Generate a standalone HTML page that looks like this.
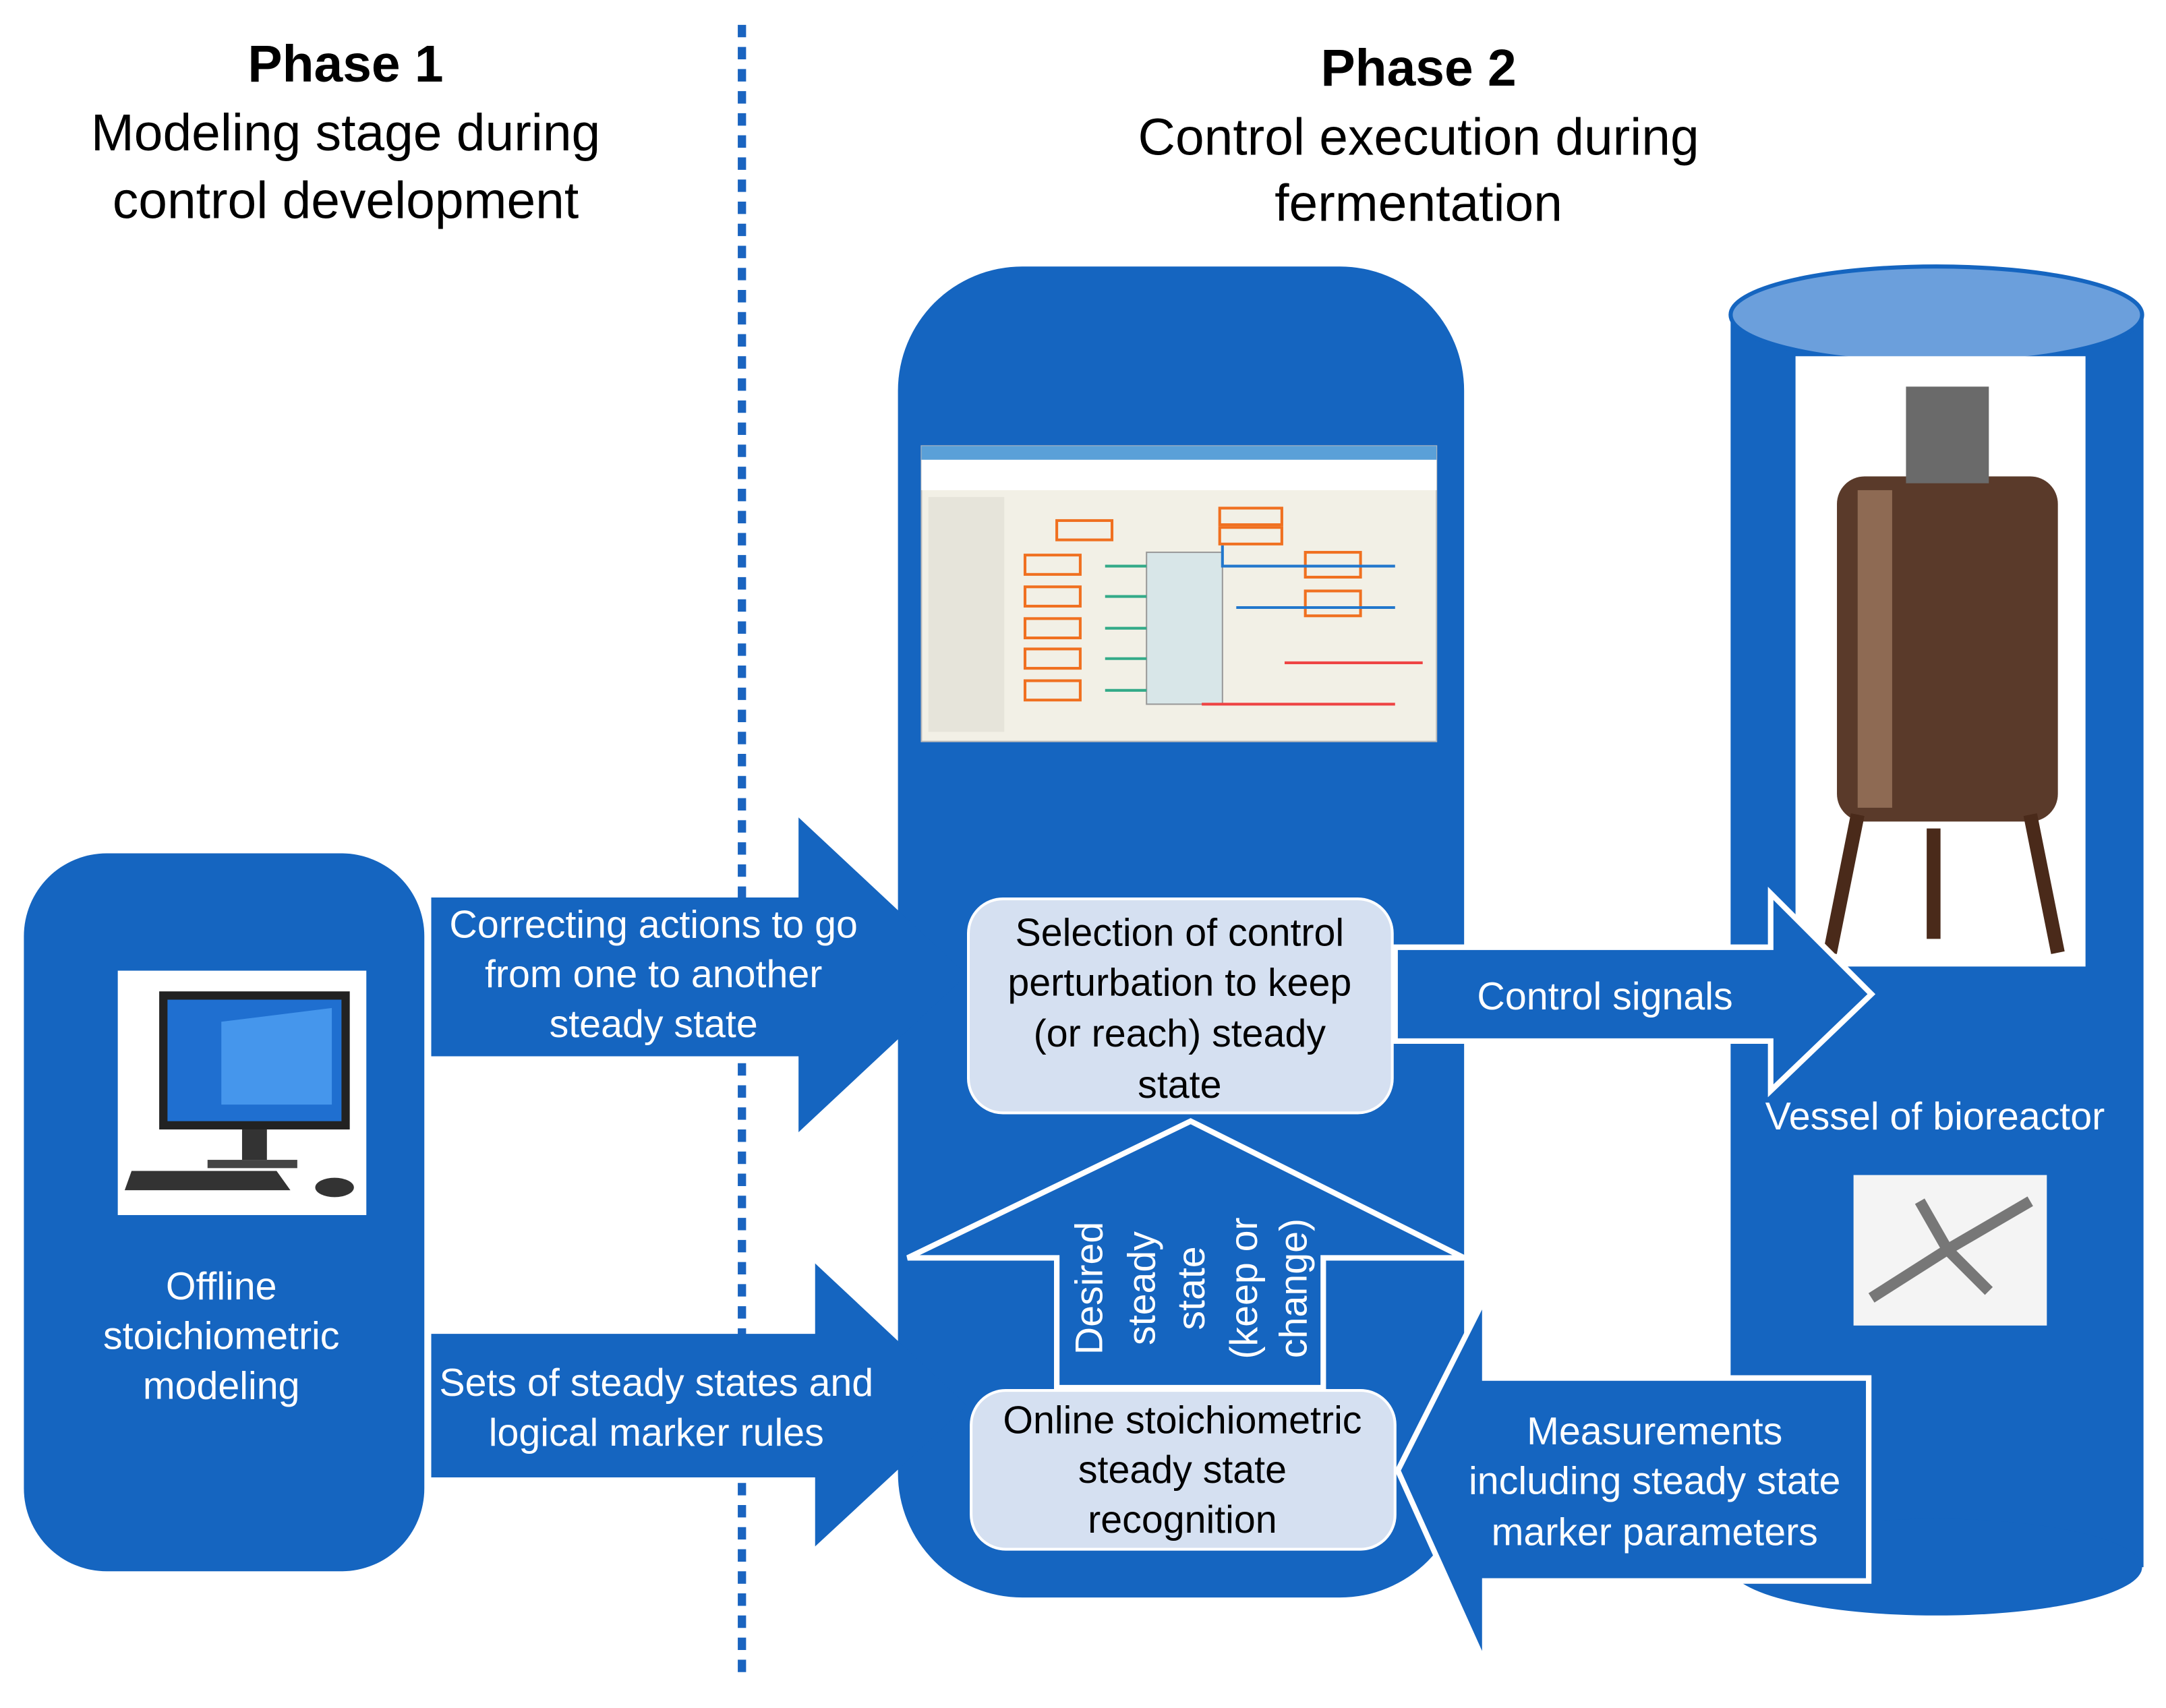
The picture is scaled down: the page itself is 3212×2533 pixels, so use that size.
<!DOCTYPE html>
<html><head><meta charset="utf-8"><style>html,body{margin:0;padding:0;background:#fff}svg{display:block}</style></head><body>
<svg width="3212" height="2533" viewBox="0 0 1568 1237" xmlns="http://www.w3.org/2000/svg" font-family="Liberation Sans, sans-serif">
<rect width="1568" height="1237" fill="#fff"/>
<g text-anchor="middle" fill="#000" font-size="37.5">
<text x="250" y="59" font-weight="bold">Phase 1</text>
<text x="250" y="109">Modeling stage during</text>
<text x="250" y="158">control development</text>
<text x="1027" y="62" font-weight="bold">Phase 2</text>
<text x="1027" y="112">Control execution during</text>
<text x="1027" y="160">fermentation</text>
</g>
<line x1="537" y1="18" x2="537" y2="1214" stroke="#1a64c0" stroke-width="6" stroke-dasharray="9,7"/>
<rect x="17" y="618" width="290" height="520" rx="60" fill="#1565c0"/>
<rect x="85" y="703" width="180" height="177" fill="#fff"/>
<rect x="115" y="718" width="138" height="100" fill="#222"/>
<rect x="121" y="724" width="126" height="88" fill="#1f6fd0"/>
<polygon points="160,740 240,730 240,800 160,800" fill="#5fb0ff" opacity=".6"/>
<rect x="175" y="818" width="18" height="22" fill="#333"/>
<rect x="150" y="840" width="65" height="6" fill="#444"/>
<polygon points="95,848 200,848 210,862 90,862" fill="#333"/>
<ellipse cx="242" cy="860" rx="14" ry="7" fill="#333"/>
<g fill="#fff" font-size="28" text-anchor="middle">
<text x="160" y="941">Offline</text><text x="160" y="977">stoichiometric</text><text x="160" y="1013">modeling</text>
</g>
<rect x="650" y="193" width="410" height="964" rx="90" fill="#1565c0"/>
<rect x="667" y="323" width="373" height="214" fill="#f2f0e6" stroke="#bbb"/>
<rect x="667" y="323" width="373" height="10" fill="#5aa0d8"/>
<rect x="667" y="333" width="373" height="22" fill="#fff"/>
<rect x="672" y="360" width="55" height="170" fill="#e6e4da"/>
<rect x="830" y="400" width="55" height="110" fill="#d8e6e8" stroke="#999"/>
<g fill="none" stroke="#f07020" stroke-width="2">
<rect x="742" y="402" width="40" height="14"/><rect x="742" y="425" width="40" height="14"/><rect x="742" y="448" width="40" height="14"/><rect x="742" y="470" width="40" height="14"/><rect x="742" y="493" width="40" height="14"/>
<rect x="883" y="368" width="45" height="12"/><rect x="883" y="382" width="45" height="12"/><rect x="945" y="400" width="40" height="18"/><rect x="945" y="428" width="40" height="18"/><rect x="765" y="377" width="40" height="14"/>
</g>
<path d="M800 410 H830 M800 432 H830 M800 455 H830 M800 477 H830 M800 500 H830" stroke="#3a8" stroke-width="2"/>
<path d="M885 395 V410 H1010 M895 440 H1010" stroke="#27c" stroke-width="2" fill="none"/>
<path d="M870 510 H1010 M930 480 H1030" stroke="#e44" stroke-width="2" fill="none"/>
<polygon points="312,650 578,650 578,592 700,706 578,820 578,765 312,765" fill="#1565c0"/>
<polygon points="312,966 590,966 590,915 700,1018 590,1120 590,1070 312,1070" fill="#1565c0"/>
<g fill="#fff" font-size="28" text-anchor="middle">
<text x="473" y="679">Correcting actions to go</text>
<text x="473" y="715">from one to another</text>
<text x="473" y="751">steady state</text>
<text x="475" y="1011">Sets of steady states and</text>
<text x="475" y="1047">logical marker rules</text>
</g>
<polygon points="862,812 1060,911 958,911 958,1005 765,1005 765,911 657,911" fill="#1565c0" stroke="#fff" stroke-width="4"/>
<g fill="#fff" font-size="28" text-anchor="middle">
<text transform="translate(798,933) rotate(-90)">Desired</text>
<text transform="translate(836,933) rotate(-90)">steady</text>
<text transform="translate(872,933) rotate(-90)">state</text>
<text transform="translate(910,933) rotate(-90)">(keep or</text>
<text transform="translate(946,933) rotate(-90)">change)</text>
</g>
<rect x="701" y="651" width="307" height="155" rx="25" fill="#d5e0f1" stroke="#fff" stroke-width="2"/>
<rect x="703" y="1007" width="307" height="115" rx="25" fill="#d5e0f1" stroke="#fff" stroke-width="2"/>
<g fill="#000" font-size="28" text-anchor="middle">
<text x="854" y="685">Selection of control</text>
<text x="854" y="721">perturbation to keep</text>
<text x="854" y="758">(or reach) steady</text>
<text x="854" y="795">state</text>
<text x="856" y="1038">Online stoichiometric</text>
<text x="856" y="1074">steady state</text>
<text x="856" y="1110">recognition</text>
</g>
<rect x="1253" y="228" width="299" height="907" fill="#1565c0"/>
<ellipse cx="1402" cy="1135" rx="149" ry="35" fill="#1565c0"/>
<ellipse cx="1402" cy="228" rx="149" ry="35" fill="#6b9fdc" stroke="#1565c0" stroke-width="3"/>
<rect x="1300" y="258" width="210" height="442" fill="#fff"/>
<rect x="1330" y="345" width="160" height="250" rx="20" fill="#5a3a2a"/>
<rect x="1345" y="355" width="25" height="230" fill="#b08a70" opacity=".6"/>
<rect x="1380" y="280" width="60" height="70" fill="#6a6a6a"/>
<path d="M1345 590 L1325 690 M1470 590 L1490 690 M1400 600 V680" stroke="#4a2a1a" stroke-width="10"/>
<polygon points="1010,686 1282,686 1282,647 1355,720 1282,790 1282,754 1010,754" fill="#1565c0" stroke="#fff" stroke-width="4"/>
<text x="1162" y="731" fill="#fff" font-size="28" text-anchor="middle">Control signals</text>
<text x="1401" y="818" fill="#fff" font-size="28" text-anchor="middle">Vessel of bioreactor</text>
<rect x="1342" y="851" width="140" height="109" fill="#f4f4f4"/>
<path d="M1355 940 L1410 905 L1470 870 M1390 870 L1410 905 L1440 935" stroke="#777" stroke-width="8" fill="none"/>
<polygon points="1353,998 1075,998 1075,940 1012,1065 1075,1205 1075,1145 1353,1145" fill="#1565c0" stroke="#fff" stroke-width="4"/>
<g fill="#fff" font-size="28" text-anchor="middle">
<text x="1198" y="1046">Measurements</text>
<text x="1198" y="1082">including steady state</text>
<text x="1198" y="1119">marker parameters</text>
</g>
</svg>
</body></html>
